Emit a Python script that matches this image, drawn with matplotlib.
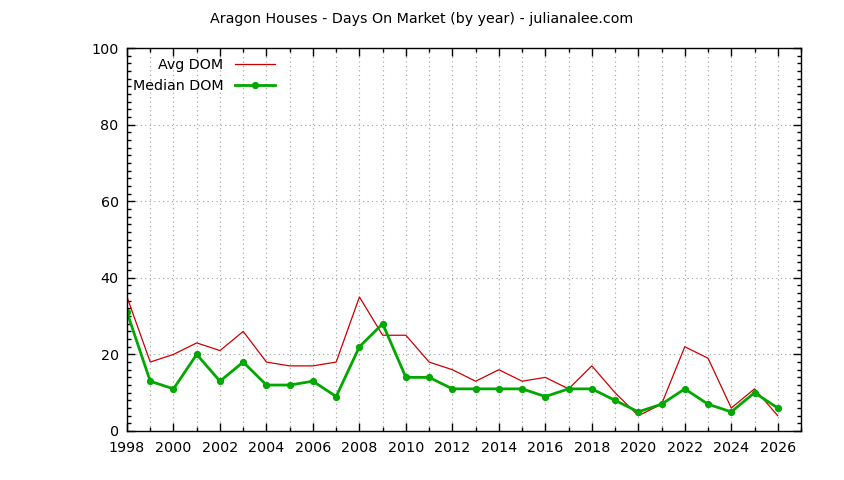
import matplotlib.pyplot as plt
from matplotlib.ticker import MultipleLocator

years = list(range(1998, 2027))
avg_dom = [35, 18, 20, 23, 21, 26, 18, 17, 17, 18, 35, 25, 25, 18, 16,
           13, 16, 13, 14, 11, 17, 10, 4, 7, 22, 19, 6, 11, 4]
median_dom = [31, 13, 11, 20, 13, 18, 12, 12, 13, 9, 22, 28, 14, 14, 11,
              11, 11, 11, 9, 11, 11, 8, 5, 7, 11, 7, 5, 10, 6]

plt.rcParams['font.family'] = 'DejaVu Sans'
plt.rcParams['font.size'] = 10

fig = plt.figure(figsize=(8.44, 4.8), dpi=100)
ax = fig.add_axes([127 / 844, 49 / 480, 674 / 844, 383 / 480])

ax.plot(years, avg_dom, color='#cc0000', linewidth=0.9, label='Avg DOM')
ax.plot(years, median_dom, color='#00a800', linewidth=2, marker='o',
        markersize=4.2, label='Median DOM')

ax.set_xlim(1998, 2027)
ax.set_ylim(0, 100)
ax.xaxis.set_major_locator(MultipleLocator(2))
ax.xaxis.set_minor_locator(MultipleLocator(1))
ax.yaxis.set_major_locator(MultipleLocator(20))
ax.yaxis.set_minor_locator(MultipleLocator(2))

# gnuplot style ticks: inward, on all four sides
ax.tick_params(which='both', direction='in', top=True, right=True, labelsize=10.3)
ax.tick_params(which='major', length=6, width=1)
ax.tick_params(which='minor', length=3, width=1)
ax.tick_params(axis='x', which='major', pad=7)
ax.tick_params(axis='y', which='major', pad=6)

# grid
ax.grid(which='minor', axis='x', color='#a0a0a0', linestyle=(0, (1, 3)), linewidth=0.8)
ax.grid(which='major', axis='x', color='#a0a0a0', linestyle=(0, (1, 3)), linewidth=0.8)
ax.grid(which='major', axis='y', color='#a0a0a0', linestyle=(0, (1, 3)), linewidth=0.8)
ax.set_axisbelow(True)

for s in ax.spines.values():
    s.set_linewidth(1)

ax.legend(loc='upper left', bbox_to_anchor=(-0.006, 1.0), frameon=False,
          markerfirst=False, handlelength=2.8, handletextpad=0.8,
          borderpad=0.2, labelspacing=0.5, fontsize=10.3)

fig.text(0.5, 1 - 19 / 480, 'Aragon Houses - Days On Market (by year) - julianalee.com',
         ha='center', va='center', fontsize=10.3)

fig.savefig('out.png', dpi=100)
